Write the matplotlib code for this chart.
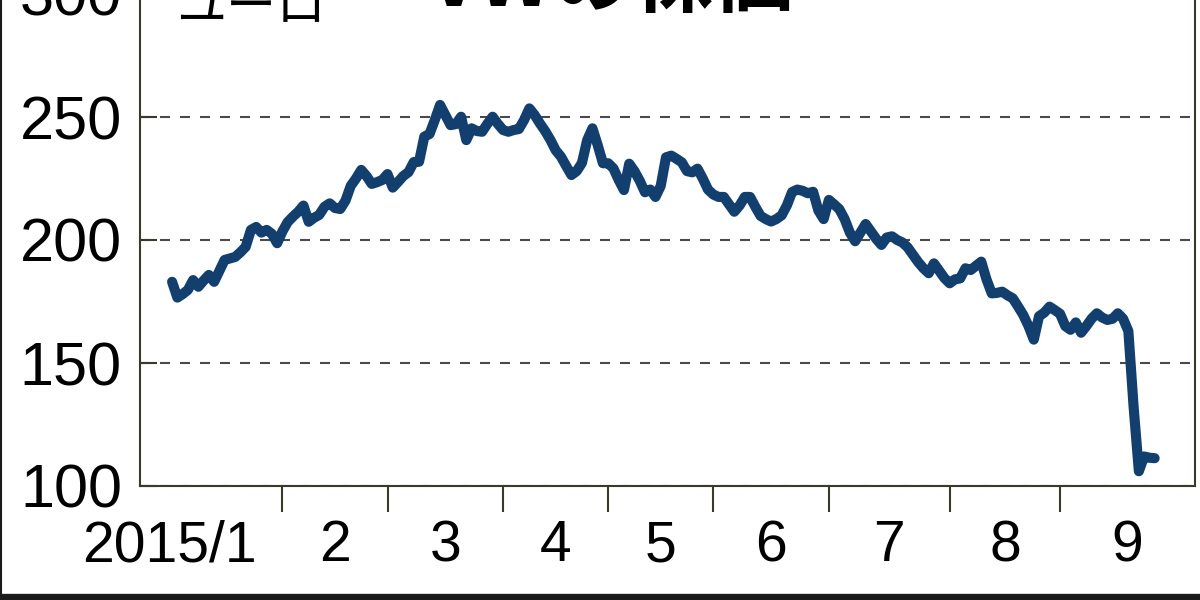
import numpy as np
import matplotlib
matplotlib.use('Agg')
import matplotlib.pyplot as plt
from matplotlib import font_manager
from matplotlib.lines import Line2D

# VW share price (euro), one value per trading day, 2015/1/2 - 2015/9/25
prices = [
    183.0, 176.6, 178.0, 179.7, 183.7, 181.0, 183.5, 185.8, 183.0, 187.5,
    191.9, 192.5, 193.1, 195.0, 197.2, 204.1, 205.3, 203.0, 204.1, 202.5,
    198.7, 203.5, 207.3, 209.5, 211.5, 214.0, 207.4, 209.0, 210.2, 213.5,
    214.9, 213.0, 212.6, 216.0, 222.0, 225.0, 228.5, 226.0, 222.8, 223.5,
    224.4, 226.8, 221.3, 223.6, 226.0, 227.6, 231.7, 231.8, 242.0, 243.1,
    248.8, 254.9, 250.8, 246.7, 247.1, 250.1, 240.6, 245.4, 244.3, 244.0,
    247.2, 250.1, 247.2, 244.7, 244.0, 244.7, 245.1, 248.8, 253.5, 250.8,
    247.4, 244.3, 240.7, 236.5, 233.9, 230.1, 226.4, 228.0, 231.3, 240.6,
    245.4, 238.6, 231.2, 231.2, 229.1, 224.4, 220.3, 231.0, 228.0, 224.1,
    219.4, 220.5, 217.5, 222.0, 233.6, 234.3, 233.0, 231.6, 228.0, 227.5,
    229.0, 225.0, 220.5, 218.5, 217.5, 217.5, 214.5, 211.5, 214.0, 217.5,
    217.5, 213.5, 209.8, 208.5, 207.5, 208.5, 210.0, 214.0, 219.5, 220.5,
    220.0, 219.0, 219.6, 212.0, 208.5, 216.3, 214.5, 212.5, 208.5, 203.0,
    199.5, 203.0, 206.5, 203.5, 200.5, 198.0, 201.0, 201.5, 200.0, 199.0,
    197.0, 194.0, 191.0, 188.5, 186.5, 190.5, 187.5, 184.5, 182.4, 184.0,
    184.4, 188.5, 187.8, 189.5, 191.2, 184.0, 178.3, 178.5, 179.0, 177.5,
    176.3, 173.0, 169.5, 165.0, 159.5, 169.0, 170.5, 172.9, 171.5, 170.0,
    165.0, 163.5, 166.5, 162.3, 165.0, 168.0, 170.2, 168.5, 167.5, 168.0,
    170.2, 168.0, 163.0, 132.2, 106.0, 112.0, 111.5, 111.3,
]
month_labels = ['2015/1', '2', '3', '4', '5', '6', '7', '8', '9']
month_starts = [0, 21, 41, 63, 83, 103, 125, 148, 169]  # first trading day of each month
y_ticks = [100, 150, 200, 250, 300]

# narrow font if there is one, otherwise plain Liberation Sans a bit smaller
available = {f.name for f in font_manager.fontManager.ttflist}
if 'Liberation Sans Narrow' in available:
    num_font = ['Liberation Sans Narrow', 'DejaVu Sans']
    y_size, x_size = 54, 50
else:
    num_font = ['Liberation Sans', 'DejaVu Sans']
    y_size, x_size = 44, 41
jp_font = ['Noto Sans CJK JP', 'DejaVu Sans']

line_color = '#123f6e'
axis_color = '#3b392c'

days = np.arange(len(prices))
x_min, x_max = -6.1, 194.7

fig = plt.figure(figsize=(12, 6), dpi=100)
ax = fig.add_axes([0.1167, 0.19, 0.8792, 0.861])
ax.set_xlim(x_min, x_max)
ax.set_ylim(100, 310)

ax.plot(days, prices, color=line_color, lw=7.3, solid_joinstyle='round',
        solid_capstyle='round', zorder=3)

# y axis
ax.set_yticks(y_ticks)
ax.set_yticklabels([str(v) for v in y_ticks], fontsize=y_size, family=num_font)
ax.tick_params(axis='y', direction='in', length=12, width=1.5, color=axis_color, pad=13)
ax.yaxis.grid(True, linestyle=(0, (4.8, 4.8)), color='#4a4a4a', lw=1.5)

# x axis: ticks on month boundaries, labels in the middle of each month
ax.set_xticks(month_starts[1:])
ax.set_xticklabels([])
ax.tick_params(axis='x', which='major', direction='out', length=19, width=1.5, color=axis_color)
bounds = month_starts + [x_max]
mids = [(bounds[i] + bounds[i + 1]) / 2 for i in range(1, len(month_starts))]
ax.set_xticks(mids, minor=True)
ax.set_xticklabels(month_labels[1:], minor=True, fontsize=x_size, family=num_font)
ax.tick_params(axis='x', which='minor', length=0, pad=24)
# first label is wider, so it sits left of the first tick instead of centred
ax.annotate(month_labels[0], xy=(month_starts[1] - 4.8, 0), xycoords=ax.get_xaxis_transform(),
            xytext=(0, -24), textcoords='offset points', ha='right', va='top',
            fontsize=x_size, family=num_font)

for side in ['left', 'bottom', 'right']:
    ax.spines[side].set_color(axis_color)
    ax.spines[side].set_linewidth(1.5)
ax.spines['top'].set_visible(False)

# unit and title, cut off by the top edge like the original
fig.text(176 / 1200, 1 - 21 / 600, 'ユーロ', fontsize=36, family=jp_font, va='baseline')
fig.text(428 / 1200, 1 - 6 / 600, 'VWの株価', fontsize=58, family=jp_font,
         fontweight='bold', va='baseline')

# dark frame edges of the clipping
fig.add_artist(Line2D([0, 1], [0.004, 0.004], transform=fig.transFigure, color='#1a1a1a', lw=6))
fig.add_artist(Line2D([0.001, 0.001], [0, 1], transform=fig.transFigure, color='#1a1a1a', lw=1.5))

fig.savefig('out.png', dpi=100)
